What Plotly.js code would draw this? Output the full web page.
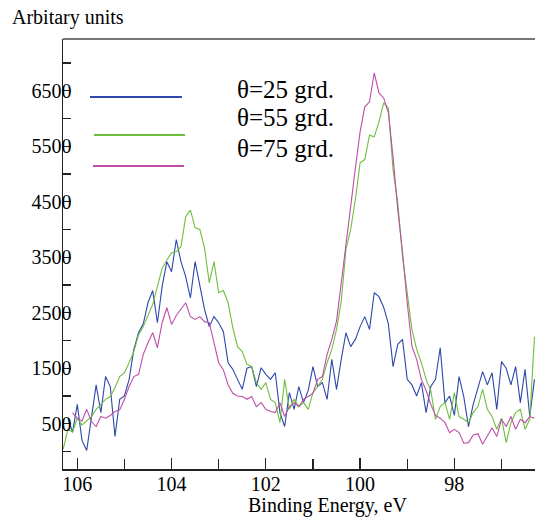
<!DOCTYPE html>
<html>
<head>
<meta charset="utf-8">
<script src="https://cdn.plot.ly/plotly-3.0.1.min.js"></script>
<style>html,body{margin:0;padding:0;background:#fff;}#chart{width:535px;height:518px;}</style>
</head>
<body>
<div id="chart"></div>
<script>
// Binding energy grid (eV)
const energy = [106.3,106.2,106.1,106.0,105.9,105.8,105.7,105.6,105.5,105.4,
105.3,105.2,105.1,105.0,104.9,104.8,104.7,104.6,104.5,104.4,
104.3,104.2,104.1,104.0,103.9,103.8,103.7,103.6,103.5,103.4,
103.3,103.2,103.1,103.0,102.9,102.8,102.7,102.6,102.5,102.4,
102.3,102.2,102.1,102.0,101.9,101.8,101.7,101.6,101.5,101.4,
101.3,101.2,101.1,101.0,100.9,100.8,100.7,100.6,100.5,100.4,
100.3,100.2,100.1,100.0,99.9,99.8,99.7,99.6,99.5,99.4,
99.3,99.2,99.1,99.0,98.9,98.8,98.7,98.6,98.5,98.4,
98.3,98.2,98.1,98.0,97.9,97.8,97.7,97.6,97.5,97.4,
97.3,97.2,97.1,97.0,96.9,96.8,96.7,96.6,96.5,96.4,96.3];

// theta = 25 grd.
const theta25 = [null,600,350,850,200,20,650,1200,700,1350,
1170,270,940,1000,1300,1840,2140,2300,2680,2900,
2320,2970,3420,3240,3820,3420,3150,2770,3420,2970,
2560,2250,2430,2320,2160,1600,1480,1300,1120,1500,
1530,1170,1510,1390,1300,1420,700,450,1060,760,
1170,880,1100,1530,1170,1240,940,1660,1120,1660,
2140,1890,2020,2250,2430,2200,2860,2790,2600,2300,
1530,1930,2020,1300,1200,1000,1240,700,1170,1300,
1870,880,1000,650,1350,990,450,850,1150,1440,
1200,1420,760,1620,1500,1200,1530,880,1480,630,1300];

// theta = 55 grd.
const theta55 = [40,400,350,600,480,550,630,760,850,940,
990,1150,1350,1420,1600,1800,2100,2250,2450,2650,
2970,3300,3450,3580,3600,3690,4230,4350,4030,4000,
3670,3040,3420,2860,2900,2680,2230,1890,1800,1570,
1530,1240,1120,1240,940,880,520,1300,760,940,
810,880,760,1060,1170,1300,1600,1840,2200,2700,
3640,4000,4540,5200,5260,5700,5670,5940,6280,6190,
5070,4480,3510,2860,2200,1840,1600,1300,1100,580,
810,880,580,1060,630,580,520,700,810,1120,
760,630,400,600,160,520,700,760,400,580,2070];

// theta = 75 grd.
const theta75 = [null,null,700,600,550,760,540,450,630,600,
650,720,750,940,1170,1350,1390,1750,1960,2140,
1870,2320,2590,2290,2450,2560,2680,2430,2380,2430,
2340,2320,1960,1600,1470,1200,1050,1000,990,940,
990,810,880,760,720,700,880,630,810,880,
810,940,990,1050,1300,1350,1750,2020,2350,3040,
3800,4500,5100,5760,6210,6300,6820,6460,6370,6100,
5300,4350,3600,2680,1900,1660,1300,1100,850,650,
600,520,340,400,340,150,160,300,320,130,
270,430,270,580,450,630,400,580,520,630,600];

const seriesNames = ['θ=25 grd.','θ=55 grd.','θ=75 grd.'];
const seriesColors = ['rgb(45,72,170)','rgb(112,190,62)','rgb(190,78,168)'];
const seriesData = [theta25, theta55, theta75];

const xTickVals = [106,104,102,100,98];
const xTickText = ['106','104','102','100','98'];
const yTickVals = [0,500,1000,1500,2000,2500,3000,3500,4000,4500,5000,5500,6000,6500,7000];
const yTickText = ['','500','','1500','','2500','','3500','','4500','','5500','','6500',''];

const serif = '"Liberation Serif", "Times New Roman", serif';

const traces = seriesData.map((vals, i) => ({
  x: energy, y: vals, type: 'scatter', mode: 'lines',
  name: seriesNames[i], line: {color: seriesColors[i], width: 1.1},
  showlegend: false, connectgaps: false
}));

// hand-placed legend (sample lines + labels)
const legendLineX = [[0.0572,0.252],[0.0657,0.2585],[0.0636,0.2564]];
const legendLineY = [0.865,0.7767,0.7047];
const legendTextY = [0.8814,0.8163,0.7442];

const shapes = [
  {type:'line', xref:'paper', yref:'paper', x0:0, x1:1, y0:1, y1:1, line:{color:'#777', width:2}}
];
const annotations = [
  {text:'Arbitary units', xref:'paper', yref:'paper', x:-0.112, y:1.051, xanchor:'left', yanchor:'middle', showarrow:false, font:{family:serif, size:20, color:'#000'}},
  {text:'Binding Energy, eV', xref:'paper', yref:'paper', x:0.561, y:-0.085, xanchor:'center', yanchor:'middle', showarrow:false, font:{family:serif, size:20, color:'#000'}}
];
seriesNames.forEach((n, i) => {
  shapes.push({type:'line', xref:'paper', yref:'paper', x0:legendLineX[i][0], x1:legendLineX[i][1], y0:legendLineY[i], y1:legendLineY[i], line:{color:seriesColors[i], width:2}});
  annotations.push({text:n, xref:'paper', yref:'paper', x:0.3644, y:legendTextY[i], xanchor:'left', yanchor:'middle', showarrow:false, font:{family:serif, size:25, color:'#000'}});
});

const layout = {
  width: 535, height: 518,
  margin: {l:63, r:0, t:39, b:49, pad:0},
  paper_bgcolor:'#fff', plot_bgcolor:'#fff',
  showlegend: false,
  font: {family: serif, size: 20, color:'#000'},
  xaxis: {
    range: [106.303, 96.289], autorange: false,
    showgrid: false, zeroline: false,
    showline: true, linecolor:'#222', linewidth:1.5,
    tickmode:'array', tickvals: xTickVals, ticktext: xTickText,
    ticks:'inside', ticklen: 11, tickcolor:'#222', tickwidth:1.3,
    minor: {dtick:1, tick0:0, ticks:'inside', ticklen:10, tickcolor:'#222', tickwidth:1.3, showgrid:false},
    tickfont: {family: serif, size: 20, color:'#000'},
    ticklabelstandoff: -4
  },
  yaxis: {
    range: [-315, 7432], autorange: false,
    showgrid: false, zeroline: false,
    showline: true, linecolor:'#222', linewidth:1.5,
    tickmode:'array', tickvals: yTickVals, ticktext: yTickText,
    ticks:'inside', ticklen: 8, tickcolor:'#222', tickwidth:1.3,
    tickfont: {family: serif, size: 20, color:'#000'},
    ticklabelstandoff: -14
  },
  shapes: shapes,
  annotations: annotations,
  hovermode: false
};

Plotly.newPlot('chart', traces, layout, {staticPlot:true, displayModeBar:false});
</script>
</body>
</html>
